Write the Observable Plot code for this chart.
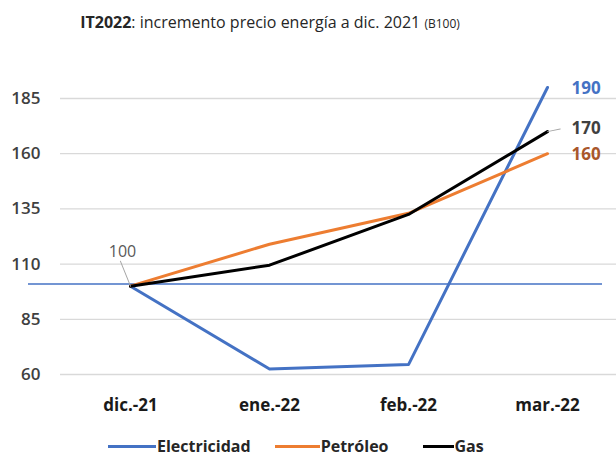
<!DOCTYPE html>
<html><head><meta charset="utf-8">
<script src="https://cdn.jsdelivr.net/npm/d3@7"></script>
<script src="https://cdn.jsdelivr.net/npm/@observablehq/plot@0.6"></script>
<style>
body{margin:0;background:#fff;font-family:"Open Sans",sans-serif;width:616px;height:457px;overflow:hidden}
#title{height:45px;line-height:44px;font-size:16px;color:#262626;width:540px;text-align:center;white-space:nowrap}
#legend{display:flex;align-items:center;margin-left:108px;margin-top:16px;font-size:16px;line-height:20px;font-weight:700;color:#262626;height:20px}
.sw{display:inline-block;height:3px;margin-right:1px}
</style></head><body>
<div id="title"><b>IT2022</b>: incremento precio energía a dic. 2021 <span style="font-size:12px">(B100)</span></div>
<div id="chart"></div>
<div id="legend"></div>
<script>
const months = ["dic.-21", "ene.-22", "feb.-22", "mar.-22"];
const electricidad = [100, 62.5, 64.5, 190];
const petroleo = [100, 119, 133, 160];
const gas = [100, 109.5, 132.5, 170];
const seriesNames = ["Electricidad", "Petróleo", "Gas"];
const seriesColors = ["#4472c4", "#ed7d31", "#000000"];
const labelColors = ["#4472c4", "#a9572b", "#404040"];
const yTicks = [60, 85, 110, 135, 160, 185];
const baseline = 101;

const seriesValues = [electricidad, petroleo, gas];
const rows = seriesNames.flatMap((s, i) => months.map((m, j) => ({series: s, month: m, value: seriesValues[i][j]})));
const lastOf = i => [{month: months[months.length - 1], value: seriesValues[i][months.length - 1]}];
const first = [{month: months[0], value: electricidad[0]}];
const spike = {draw(ctx, l) { ctx.moveTo(0, 0); ctx.lineTo(0, -l); }};
const endDy = [1, 1, -3];

const chart = Plot.plot({
  width: 616, height: 375,
  marginLeft: 60, marginRight: 0, marginTop: 53, marginBottom: 46,
  x: {type: "point", domain: months, padding: 0.5},
  y: {domain: [60, 185]},
  color: {domain: seriesNames, range: seriesColors},
  style: {fontFamily: "'Open Sans', sans-serif", background: "transparent", display: "block"},
  marks: [
    Plot.gridY(yTicks, {stroke: "#d9d9d9", strokeOpacity: 1, strokeWidth: 1.3}),
    Plot.ruleY([baseline], {stroke: "#4472c4", strokeWidth: 1.5, insetLeft: -32, insetRight: 14}),
    Plot.axisY(yTicks, {tickSize: 0, tickPadding: 20, fontSize: 17, fontWeight: 600, fill: "#404040", label: null}),
    Plot.axisX({tickSize: 0, tickPadding: 24, fontSize: 17, fontWeight: 700, fill: "#1a1a1a", label: null}),
    Plot.lineY(rows, {x: "month", y: "value", stroke: "series", strokeWidth: 3}),
    Plot.vector(first, {x: "month", y: "value", length: 27, rotate: -22, anchor: "start", stroke: "#a6a6a6", strokeWidth: 1, shape: spike}),
    Plot.text(first, {x: "month", y: "value", text: d => String(d.value), dx: -8, dy: -34, fontSize: 16, fill: "#595959"}),
    Plot.vector(lastOf(2), {x: "month", y: "value", length: 13, rotate: 78, anchor: "start", stroke: "#a6a6a6", strokeWidth: 1, shape: spike}),
    ...seriesNames.map((s, i) => Plot.text(lastOf(i), {x: "month", y: "value", text: d => String(Math.round(d.value)), dx: 24, dy: endDy[i], textAnchor: "start", fontSize: 17, fontWeight: 700, fill: labelColors[i]}))
  ]
});
document.getElementById("chart").appendChild(chart);

const swatchWidths = [48, 45, 31];
const gaps = [24, 34, 0];
const legend = d3.select("#legend");
seriesNames.forEach((s, i) => {
  legend.append("span").attr("class", "sw").style("width", swatchWidths[i] + "px").style("background", seriesColors[i]);
  legend.append("span").style("margin-right", gaps[i] + "px").text(s);
});
</script>
</body></html>
